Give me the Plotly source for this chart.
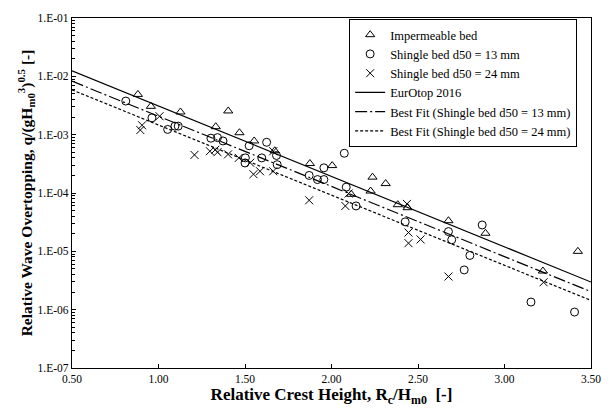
import numpy as np
import plotly.graph_objects as go

# ---- data ----
imp_x = [0.881, 0.956, 1.127, 1.403, 1.331, 1.468, 1.553, 1.672, 1.875, 2.004,
         2.237, 2.313, 2.226, 2.114, 2.383, 2.440, 2.676, 2.890, 3.424, 3.222]
imp_q = [4.9e-3, 3.06e-3, 2.45e-3, 2.55e-3, 1.37e-3, 1.08e-3, 7.8e-4, 5.3e-4, 3.2e-4, 2.95e-4,
         1.87e-4, 1.45e-4, 1.08e-4, 9.5e-5, 6.3e-5, 5.6e-5, 3.35e-5, 2.04e-5, 1.0e-5, 4.6e-6]

s13_x = [0.811, 0.962, 1.053, 1.095, 1.114, 1.303, 1.341, 1.373, 1.524, 1.502,
         1.500, 1.625, 1.597, 1.682, 1.686, 2.074, 1.956, 1.871, 1.919, 1.956,
         2.085, 2.142, 2.426, 2.676, 2.695, 2.871, 2.800, 2.767, 3.153, 3.405]
s13_q = [3.77e-3, 1.94e-3, 1.23e-3, 1.4e-3, 1.4e-3, 8.7e-4, 8.9e-4, 7.8e-4, 6.45e-4, 4.0e-4,
         3.27e-4, 7.4e-4, 4.0e-4, 4.4e-4, 3.06e-4, 4.8e-4, 2.7e-4, 2.0e-4, 1.7e-4, 1.7e-4,
         1.26e-4, 6.0e-5, 3.2e-5, 2.18e-5, 1.58e-5, 2.83e-5, 8.5e-6, 4.8e-6, 1.35e-6, 9.1e-7]

s24_x = [0.895, 0.905, 1.006, 1.208, 1.297, 1.328, 1.341, 1.402, 1.464, 1.530,
         1.549, 1.587, 1.663, 1.663, 1.871, 2.099, 2.080, 2.436, 2.445, 2.445,
         2.515, 2.676, 3.226]
s24_q = [1.2e-3, 1.45e-3, 2.07e-3, 4.5e-4, 5.2e-4, 5.5e-4, 5.0e-4, 4.6e-4, 4.0e-4, 3.3e-4,
         2.1e-4, 2.36e-4, 2.36e-4, 5.2e-4, 7.5e-5, 9.8e-5, 6.0e-5, 6.5e-5, 2.1e-5, 1.38e-5,
         1.6e-5, 3.7e-6, 2.95e-6]

# fit lines: q = a * exp(-b * Rc/Hm0)
fit_names = ["EurOtop 2016", "Best Fit (Shingle bed d50 = 13 mm)", "Best Fit (Shingle bed d50 = 24 mm)"]
fit_a = [0.050, 0.0330, 0.0234]
fit_b = [2.78, 2.77, 2.77]
fit_dash = ["solid", "12px,3px,2px,3px", "3px,2px"]

x_ticks = [0.5, 1.0, 1.5, 2.0, 2.5, 3.0, 3.5]
y_ticks = [1e-7, 1e-6, 1e-5, 1e-4, 1e-3, 1e-2, 1e-1]
y_ticktext = ["1.E-07", "1.E-06", "1.E-05", "1.E-04", "1.E-03", "1.E-02", "1.E-01"]

FONT = "Liberation Serif"

fig = go.Figure()
mk = dict(color="black", size=8, line=dict(color="black", width=1))
fig.add_trace(go.Scatter(x=imp_x, y=imp_q, mode="markers", name="Impermeable bed",
                         marker=dict(symbol="triangle-up-open", **mk)))
fig.add_trace(go.Scatter(x=s13_x, y=s13_q, mode="markers", name="Shingle bed d50 = 13 mm",
                         marker=dict(symbol="circle-open", **mk)))
fig.add_trace(go.Scatter(x=s24_x, y=s24_q, mode="markers", name="Shingle bed d50 = 24 mm",
                         marker=dict(symbol="x-thin-open", **mk)))

xs = np.linspace(x_ticks[0], x_ticks[-1], 50)
for n, a, b, d in zip(fit_names, fit_a, fit_b, fit_dash):
    fig.add_trace(go.Scatter(x=xs, y=a * np.exp(-b * xs), mode="lines", name=n,
                             line=dict(color="black", width=1.2, dash=d)))

minor_vals = [m * 10.0 ** e for e in range(-7, -1) for m in range(2, 10)]

fig.update_layout(
    width=613, height=410,
    margin=dict(l=72, r=13, t=15, b=41),
    paper_bgcolor="white", plot_bgcolor="white",
    font=dict(family=FONT, size=13, color="black"),
    showlegend=True,
    legend=dict(x=0.534, y=0.997, xanchor="left", yanchor="top",
                bordercolor="black", borderwidth=1, bgcolor="white",
                font=dict(family=FONT, size=12.5), itemwidth=30,
                tracegroupgap=0),
    xaxis=dict(range=[0.5, 3.5], tickvals=x_ticks, ticktext=[f"{v:.2f}" for v in x_ticks],
               ticks="inside", ticklen=4, tickcolor="black", showline=True, linecolor="black",
               linewidth=1.3, mirror=True, showgrid=False, zeroline=False,
               tickfont=dict(family=FONT, size=11.5),
               title=dict(text="<b>Relative Crest Height, R<sub>c</sub>/H<sub>m0</sub>  [-]</b>",
                          font=dict(family=FONT, size=17), standoff=1)),
    yaxis=dict(type="log", range=[-7, -1], tickvals=y_ticks, ticktext=y_ticktext,
               ticks="inside", ticklen=4, tickcolor="black", showline=True, linecolor="black",
               linewidth=1.3, mirror=True, showgrid=False, zeroline=False,
               tickfont=dict(family=FONT, size=11.5),
               minor=dict(tickvals=minor_vals, ticks="inside", ticklen=3, tickcolor="black",
                          showgrid=False),
               title=dict(text="<b>Relative Wave Overtopping, q/(gH<sub>m0</sub><sup>3</sup>)<sup>0.5</sup> [-]</b>",
                          font=dict(family=FONT, size=15.5), standoff=1)),
)

fig.write_html("out.html")
